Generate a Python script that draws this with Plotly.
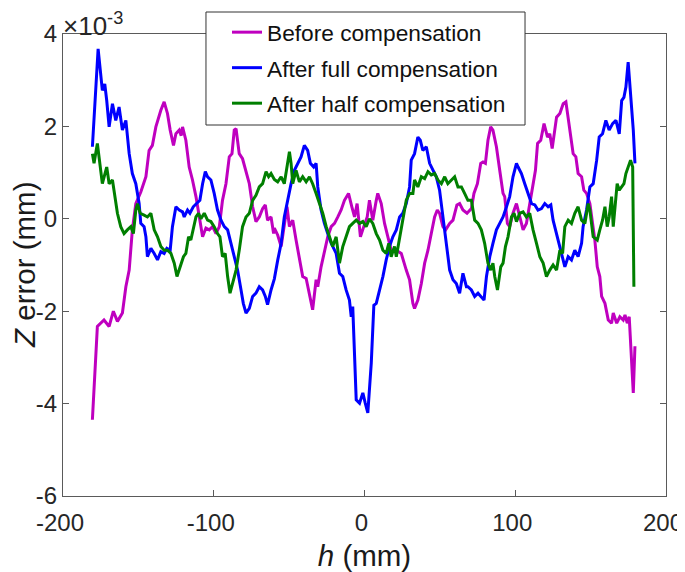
import plotly.graph_objects as go

# Values in units of 1e-3 mm (axis shows x10^-3)
h_before = [-180.5,-177.2,-172.8,-169.4,-166.6,-163.9,-160.6,-158.3,-156.1,-154.0,-151.7,-148.4,-145.0,-142.9,-140.7,-138.4,-135.1,-132.9,-130.7,-128.9,-126.7,-125.1,-122.9,-121.6,-120.7,-118.5,-116.3,-114.1,-111.8,-109.6,-107.4,-105.2,-103.0,-100.8,-98.5,-96.3,-94.2,-91.9,-89.7,-87.9,-86.4,-85.2,-83.1,-80.9,-78.6,-76.4,-74.2,-72.0,-69.8,-67.6,-65.8,-64.3,-62.0,-60.3,-59.8,-57.6,-55.3,-53.2,-51.4,-49.8,-47.6,-45.4,-43.2,-41.0,-38.7,-36.5,-34.4,-32.1,-31.0,-28.8,-26.6,-24.4,-22.1,-19.9,-17.7,-15.5,-13.3,-10.6,-8.4,-6.6,-4.9,-2.7,-0.5,1.8,3.3,5.5,7.8,8.8,11.1,13.3,15.5,17.7,21.1,24.4,27.7,29.9,32.1,33.2,35.4,37.7,39.9,42.1,44.3,46.5,48.3,49.8,52.0,53.8,56.5,58.7,61.3,63.1,65.3,68.0,70.9,72.6,74.9,77.1,78.6,80.2,81.9,83.7,85.2,87.5,89.7,91.9,93.0,94.8,96.3,98.5,100.8,103.0,105.2,107.4,109.6,111.8,113.4,114.8,116.9,119.1,121.4,122.9,124.5,126.2,127.4,129.6,131.8,133.6,135.1,136.7,138.4,140.2,141.7,144.0,145.5,147.3,149.5,151.3,152.8,154.4,156.1,157.3,159.5,161.7,163.9,165.0,167.3,169.4,171.6,172.8,174.3,175.6,177.2,178.3,179.4]
z_before = [-4.35,-2.33,-2.19,-2.33,-2.00,-2.22,-2.04,-1.47,-1.11,-0.24,0.33,0.58,0.91,1.48,1.59,1.99,2.35,2.53,2.28,1.92,1.59,1.84,1.92,1.80,1.99,1.70,1.12,0.84,0.48,0.04,-0.39,-0.20,-0.24,-0.17,-0.32,-0.17,0.40,0.76,1.34,1.41,1.92,1.95,1.41,1.30,1.05,0.76,0.26,-0.06,0.04,0.22,0.30,-0.03,0.04,-0.32,-0.20,-0.35,-0.60,-0.10,0.26,-0.17,-0.03,-0.46,-0.82,-1.25,-1.29,-1.61,-1.97,-1.32,-1.47,-1.04,-0.68,-0.39,-0.17,-0.10,0.04,0.19,0.40,0.55,0.26,0.04,0.33,-0.39,-0.17,0.04,0.40,-0.03,0.40,0.55,0.33,-0.10,-0.39,-0.68,-0.68,-0.75,-1.11,-1.32,-1.83,-1.94,-1.76,-1.40,-0.96,-0.68,-0.32,0.04,0.19,0.12,-0.17,-0.24,-0.10,-0.03,0.30,0.33,0.19,0.12,0.22,0.55,0.76,1.20,1.23,1.20,1.70,1.99,1.92,1.56,1.05,0.55,0.48,-0.10,-0.17,0.12,0.33,0.04,-0.24,-0.10,0.33,0.76,1.05,1.63,1.70,2.06,1.77,1.84,1.52,1.92,2.20,2.28,2.49,2.53,2.20,1.77,1.41,1.34,0.98,0.91,0.62,0.55,0.33,-0.10,-0.46,-1.04,-1.25,-1.68,-1.83,-2.19,-2.26,-2.04,-2.26,-2.12,-2.19,-2.08,-2.26,-2.12,-3.12,-3.77,-2.76]

h_full = [-180.5,-176.7,-173.9,-172.3,-171.0,-169.4,-167.2,-165.0,-162.8,-160.6,-158.3,-156.1,-154.0,-151.7,-149.5,-148.4,-146.2,-145.0,-144.0,-141.7,-139.5,-137.3,-135.1,-132.9,-131.1,-128.9,-127.4,-125.1,-122.9,-120.7,-119.6,-117.4,-115.8,-113.6,-111.4,-109.2,-107.4,-105.6,-104.1,-101.9,-99.7,-97.5,-95.2,-93.0,-90.8,-88.6,-86.4,-84.2,-81.9,-80.4,-78.6,-76.4,-74.2,-72.0,-69.8,-67.6,-65.8,-64.3,-62.0,-59.8,-57.6,-55.3,-53.2,-51.0,-48.7,-46.5,-44.3,-42.1,-39.9,-37.7,-35.9,-33.7,-32.1,-31.0,-28.8,-26.6,-24.4,-22.1,-18.8,-16.6,-14.4,-12.2,-10.0,-8.8,-7.8,-6.6,-5.5,-3.3,-1.1,0.5,2.2,4.5,6.2,7.8,10.0,12.2,14.4,16.6,18.8,21.1,23.3,25.4,27.7,29.9,31.0,33.2,35.4,37.0,38.7,41.0,43.2,45.4,47.6,49.8,52.0,54.3,56.5,58.7,60.9,63.1,65.3,67.6,68.6,70.9,73.1,75.3,77.1,79.3,80.9,83.1,85.2,87.5,89.7,91.9,94.2,96.3,98.5,100.8,101.9,104.1,106.3,108.5,110.8,113.0,115.1,117.4,119.6,121.8,123.6,125.1,127.4,129.6,130.7,132.9,135.1,137.3,139.5,141.7,144.0,145.0,147.3,149.5,151.7,154.0,155.7,157.9,160.1,162.3,164.6,166.8,169.0,170.6,172.1,173.4,174.9,176.5,178.3,179.4]
z_full = [1.56,3.68,2.78,2.92,2.56,1.99,2.49,2.13,2.42,1.92,2.13,1.41,0.98,0.76,0.33,-0.10,-0.17,-0.39,-0.82,-0.64,-0.75,-0.89,-0.71,-0.75,-0.64,-0.68,-0.17,0.26,0.19,0.15,0.04,0.19,0.12,0.26,0.33,0.40,0.76,1.02,0.91,0.84,0.55,0.19,-0.03,-0.17,-0.24,-0.53,-0.82,-1.11,-1.54,-1.83,-2.04,-1.94,-1.68,-1.61,-1.47,-1.54,-1.68,-1.86,-1.54,-1.30,-0.90,-0.53,0.04,0.40,0.76,1.05,1.20,1.34,1.59,1.48,1.20,1.12,1.20,0.69,0.19,-0.10,-0.32,-0.53,-0.75,-1.18,-1.25,-1.54,-1.76,-2.12,-1.90,-2.84,-3.92,-3.99,-3.77,-3.99,-4.20,-3.12,-1.87,-1.83,-1.54,-1.25,-0.89,-0.60,-0.39,-0.24,0.04,0.12,0.33,0.69,1.27,1.41,1.77,1.70,1.48,1.56,1.20,1.05,0.91,0.62,0.04,-0.46,-1.11,-1.32,-1.40,-1.61,-1.18,-1.47,-1.47,-1.54,-1.68,-1.61,-1.68,-1.76,-1.25,-0.82,-0.53,-0.24,-0.10,0.04,0.26,0.48,0.91,1.20,1.12,0.98,0.76,0.55,0.33,0.30,0.19,0.22,0.33,0.26,0.30,-0.03,-0.32,-0.60,-0.75,-1.04,-0.82,-0.89,-0.68,-0.82,-0.53,-0.17,0.19,0.69,0.76,1.27,1.77,1.84,2.13,1.92,2.06,2.13,1.84,2.56,2.63,2.85,3.39,2.71,1.92,1.20]

h_half = [-180.5,-179.4,-177.2,-175.4,-173.9,-171.0,-169.4,-167.2,-165.0,-163.9,-161.7,-159.5,-157.3,-155.0,-153.3,-151.7,-150.6,-148.8,-146.2,-144.0,-141.7,-139.5,-137.3,-135.1,-132.9,-130.7,-128.4,-126.2,-124.4,-121.8,-120.1,-118.5,-116.7,-115.2,-113.6,-111.8,-110.1,-108.5,-106.3,-104.1,-101.9,-99.7,-97.5,-95.9,-94.2,-92.4,-90.8,-89.2,-87.5,-85.2,-83.1,-80.9,-78.6,-76.4,-74.2,-72.0,-69.8,-67.6,-65.3,-63.6,-62.0,-59.8,-57.6,-55.3,-53.2,-51.0,-49.8,-48.7,-47.6,-45.4,-43.2,-41.0,-38.7,-36.5,-34.4,-32.1,-29.9,-27.7,-25.4,-23.3,-21.1,-18.8,-16.6,-14.4,-12.2,-10.0,-7.8,-5.5,-3.3,-1.1,1.1,3.3,5.5,7.8,10.0,12.2,14.4,16.1,17.7,19.9,21.1,23.3,25.4,27.7,29.9,32.1,33.2,35.4,37.7,39.9,42.1,44.3,46.5,48.7,51.0,53.2,55.3,57.6,59.8,62.0,64.3,66.4,68.6,70.9,73.1,75.3,77.5,79.7,81.9,83.7,85.2,86.4,88.2,90.4,91.9,93.5,95.2,97.5,99.2,100.8,103.0,105.2,107.4,109.6,111.8,114.1,116.3,118.5,120.7,122.9,125.1,127.4,129.6,131.4,132.9,135.1,137.3,139.5,141.7,144.0,146.2,148.4,149.5,151.7,154.4,156.1,157.9,159.5,161.0,162.3,163.9,165.0,166.8,167.6,169.0,170.6,172.1,173.4,174.9,176.5,177.9,178.7]
z_half = [1.41,1.20,1.63,1.12,0.76,1.12,0.76,0.84,0.40,0.12,-0.17,-0.32,-0.24,-0.17,-0.32,0.19,0.33,0.12,0.08,0.04,0.12,-0.24,-0.39,-0.60,-0.68,-0.68,-0.75,-0.96,-1.25,-0.96,-0.82,-0.75,-0.39,-0.46,-0.24,0.04,0.12,0.00,0.12,-0.03,-0.06,-0.17,-0.32,-0.39,-0.82,-0.75,-1.25,-1.61,-1.40,-1.11,-0.68,-0.17,0.04,0.12,0.40,0.51,0.69,0.76,1.02,0.91,0.98,0.85,0.80,0.91,0.76,1.20,1.45,1.20,0.76,1.05,0.80,0.91,0.80,0.91,0.76,0.55,0.33,0.12,-0.17,-0.39,-0.60,-0.39,-0.96,-0.60,-0.39,-0.17,-0.10,-0.03,-0.10,-0.06,-0.17,0.00,-0.10,-0.32,-0.46,-0.68,-0.75,-0.53,-0.82,-0.60,-0.82,-0.39,0.04,0.40,0.55,0.55,0.84,0.69,0.91,0.87,1.02,0.95,0.98,0.84,0.76,0.91,0.76,0.84,0.91,0.69,0.69,0.55,0.40,0.40,-0.03,-0.10,-0.24,-0.53,-0.96,-1.11,-0.96,-1.25,-1.54,-1.04,-0.96,-0.60,-0.39,0.04,0.12,-0.06,0.12,0.15,0.04,0.12,-0.24,-0.53,-0.82,-0.96,-1.25,-1.11,-1.00,-1.11,-0.68,-0.75,-0.17,-0.03,-0.10,0.12,0.26,-0.03,-0.10,0.33,0.19,-0.39,-0.46,-0.24,-0.03,0.26,-0.17,0.04,0.48,-0.17,0.40,0.76,0.62,0.69,0.76,0.98,1.12,1.27,1.12,-1.47]

names = ["Before compensation", "After full compensation", "After half compensation"]
colors = ["#bf00bf", "#0000ff", "#007f00"]

x_ticks = [-200, -100, 0, 100, 200]
x_ticktext = ["-200", "-100", "0", "100", "200"]
y_ticks = [-6, -4, -2, 0, 2, 4]
y_ticktext = ["-6", "-4", "-2", "0", "2", "4"]

FONT = "Liberation Sans, Arial, Helvetica, sans-serif"
AX = "#5a5a5a"

fig = go.Figure()
for i, (hx, zy, nm, c) in enumerate(zip([h_before, h_full, h_half], [z_before, z_full, z_half], names, colors)):
    fig.add_trace(go.Scatter(x=hx, y=zy, mode="lines", name=nm, legendgroup=f"g{i}",
                             line=dict(color=c, width=3)))

axis_common = dict(showline=True, linecolor=AX, linewidth=1, mirror="ticks",
                   ticks="inside", ticklen=6, tickcolor=AX, showgrid=False,
                   zeroline=False, automargin=False, ticklabeloverflow="allow",
                   tickfont=dict(family=FONT, size=24, color="#262626"))

# legend frame (MATLAB-style box), drawn as a paper-referenced rectangle
fig.add_shape(type="rect", xref="paper", yref="paper",
              x0=0.2371, x1=0.7662, y0=0.803, y1=1.0476,
              fillcolor="white", line=dict(color="#333333", width=1), layer="above")

# page body has an 8px default margin: figure is sized/offset to compensate
fig.update_layout(
    width=677, height=564,
    margin=dict(l=55, r=19, t=26, b=76, autoexpand=False),
    paper_bgcolor="white", plot_bgcolor="white",
    font=dict(family=FONT, color="#262626"),
    xaxis=dict(range=[-200, 200], tickvals=x_ticks, ticktext=x_ticktext,
               ticklabelstandoff=5, ticklabelshift=-3,
               title=dict(text="<i>h</i> (mm)", font=dict(size=29.5, color="#1a1a1a")), **axis_common),
    yaxis=dict(range=[-6, 4], tickvals=y_ticks, ticktext=y_ticktext, **axis_common),
    legend=dict(x=0.272, y=1.05, xanchor="left", yanchor="top",
                bgcolor="rgba(0,0,0,0)", borderwidth=0, tracegroupgap=3,
                font=dict(family=FONT, size=22.7, color="#111111")),
    showlegend=True,
)
# y-axis title placed as rotated text, left of the tick labels
fig.add_annotation(text="<i>Z</i> error (mm)", xref="paper", yref="paper", x=0.0, y=0.5,
                   xanchor="center", yanchor="middle", textangle=-90, showarrow=False,
                   xshift=-39, borderpad=0, font=dict(family=FONT, size=29.5, color="#1a1a1a"))
fig.add_annotation(text="×10<sup>-3</sup>", xref="paper", yref="paper", x=0.0, y=1.0,
                   xanchor="left", yanchor="bottom", showarrow=False, yshift=-8, xshift=-1,
                   borderpad=0, font=dict(family=FONT, size=26, color="#262626"))

fig.write_html("out.html")
